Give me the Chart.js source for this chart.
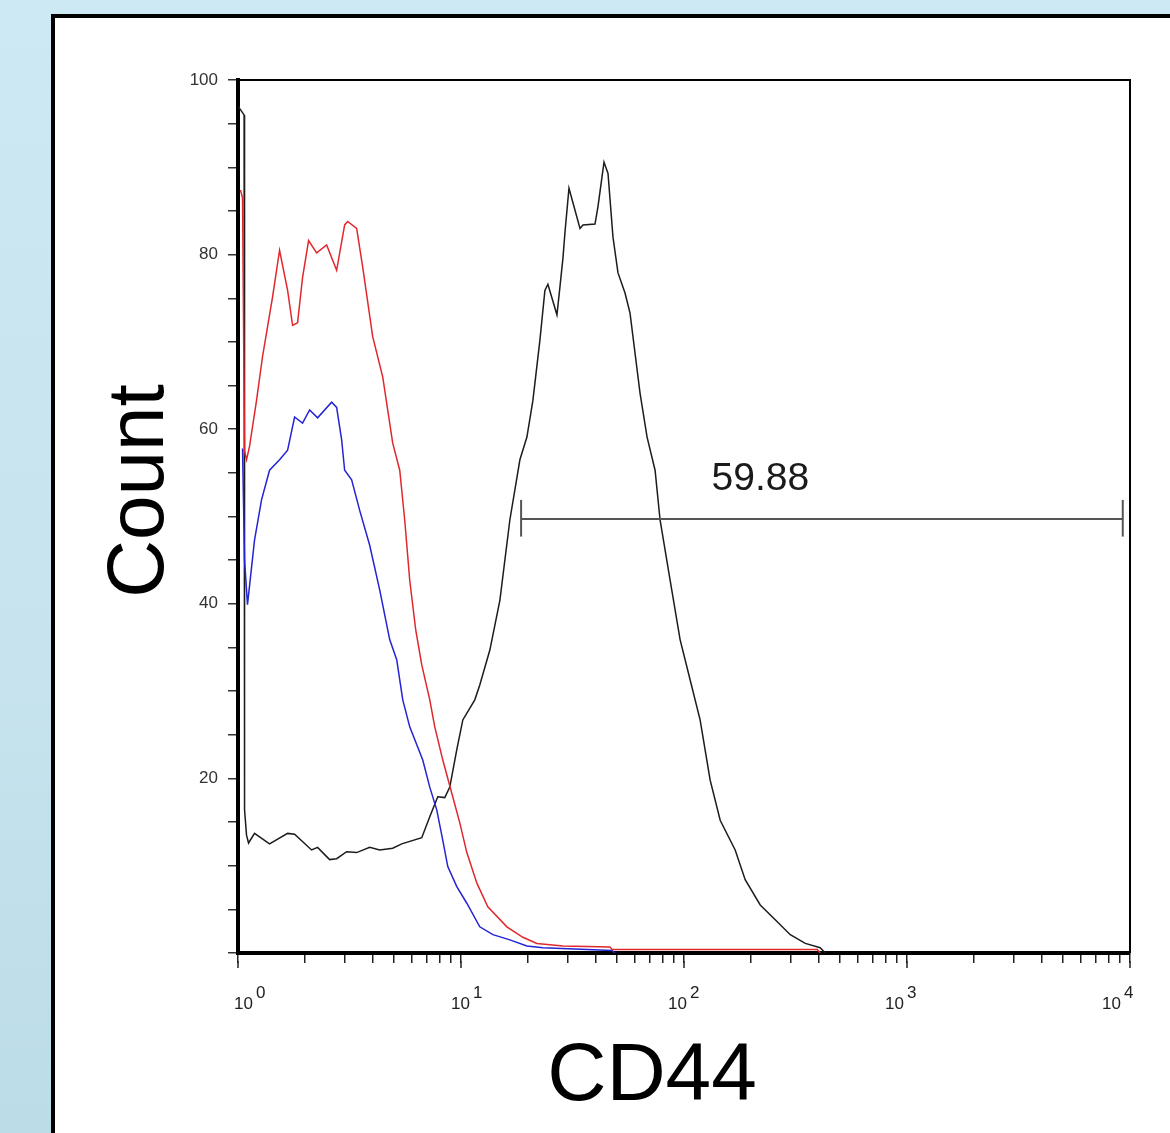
<!DOCTYPE html>
<html>
<head>
<meta charset="utf-8">
<script src="https://cdn.jsdelivr.net/npm/chart.js@4.4.1/dist/chart.umd.min.js"></script>
<style>
  html, body { margin: 0; padding: 0; }
  body {
    width: 1170px; height: 1133px; overflow: hidden; position: relative;
    background: linear-gradient(to bottom, #cde9f3 0%, #c6e3ee 60%, #bcdce7 100%);
  }
  #panel {
    position: absolute; left: 51px; top: 14px; width: 1200px; height: 1200px;
    background: #fff; border: 4px solid #000;
  }
  #grafica { position: absolute; left: 0; top: 0; }
</style>
</head>
<body>
<div id="panel"></div>
<canvas id="grafica" width="1170" height="1133"></canvas>
<script>
// CD44 histogram values (x = fluorescence, y = count)
var redX = [1.026, 1.048, 1.070, 1.092, 1.126, 1.211, 1.288, 1.385, 1.428, 1.536, 1.669, 1.757, 1.850, 1.948, 2.073, 2.252, 2.497, 2.769, 3.008, 3.102, 3.405, 3.623, 4.018, 4.456, 4.941, 5.312, 5.593, 5.890, 6.266, 6.668, 7.243, 7.627, 8.286, 9.093, 9.876, 10.62, 11.78, 13.19, 16.06, 18.95, 21.89, 28.65, 46.57, 47.55, 396, 408];
var redY = [87.4, 86.5, 57.5, 56.5, 58.0, 63.3, 68.3, 73.1, 75.1, 80.5, 75.9, 71.9, 72.2, 77.4, 81.6, 80.2, 81.1, 78.2, 83.4, 83.8, 83.0, 78.6, 70.6, 66.0, 58.4, 55.3, 49.6, 42.7, 37.0, 33.0, 29.0, 25.9, 22.1, 18.3, 14.9, 11.5, 8.0, 5.3, 3.0, 1.8, 1.1, 0.8, 0.7, 0.4, 0.4, 0];

var blueX = [1.048, 1.070, 1.103, 1.186, 1.275, 1.385, 1.536, 1.669, 1.794, 1.948, 2.095, 2.275, 2.630, 2.769, 2.915, 3.008, 3.233, 3.513, 3.895, 4.319, 4.789, 5.149, 5.481, 5.890, 6.738, 7.243, 7.786, 8.286, 8.724, 9.575, 10.62, 12.14, 13.90, 16.56, 19.75, 23.30, 47.55, 49.05];
var blueY = [57.8, 45.0, 39.9, 47.3, 51.9, 55.3, 56.5, 57.6, 61.4, 60.7, 62.2, 61.3, 63.1, 62.5, 58.8, 55.3, 54.2, 50.7, 46.7, 41.6, 35.9, 33.6, 29.0, 25.9, 22.1, 19.0, 16.4, 12.9, 9.9, 7.6, 5.7, 3.0, 2.1, 1.5, 0.8, 0.6, 0.3, 0];

var blackX = [1.0, 1.065, 1.070, 1.092, 1.115, 1.186, 1.385, 1.669, 1.794, 2.138, 2.275, 2.576, 2.769, 3.071, 3.405, 3.895, 4.319, 4.941, 5.424, 6.668, 7.243, 7.867, 8.459, 8.906, 9.575, 10.19, 11.53, 12.14, 13.47, 14.94, 16.56, 18.37, 19.75, 21.01, 22.59, 23.78, 24.53, 26.93, 27.78, 28.65, 29.25, 30.49, 34.17, 35.24, 39.89, 41.14, 43.78, 45.63, 48.03, 50.59, 54.39, 57.28, 60.32, 63.53, 68.30, 74.18, 78.11, 86.63, 96.05, 106.5, 118.1, 131.0, 145.3, 169.6, 188.1, 219.7, 256.5, 299.6, 349.9, 408, 430.1];
var blackY = [97, 96, 16.4, 13.5, 12.6, 13.7, 12.5, 13.7, 13.6, 11.8, 12.1, 10.7, 10.8, 11.6, 11.5, 12.1, 11.8, 12.0, 12.5, 13.2, 15.6, 17.9, 17.8, 19.0, 23.3, 26.7, 29.0, 30.7, 34.7, 40.4, 49.6, 56.5, 59.1, 63.3, 70.2, 75.9, 76.6, 73.1, 76.3, 79.6, 82.5, 87.6, 83.0, 83.4, 83.5, 85.5, 90.6, 89.3, 82.0, 77.9, 75.6, 73.3, 68.7, 64.1, 59.1, 55.3, 49.6, 42.7, 35.9, 31.3, 26.7, 19.8, 15.2, 11.8, 8.4, 5.5, 3.8, 2.1, 1.1, 0.6, 0];

// gate marker
var gateX = [18.6, 9280];
var gateY = 49.7;
var gateCap = [47.7, 51.9];
var gateLabel = '59.88';
var gateLabelAt = [220, 53];

// axes
var xDecades = [1, 10, 100, 1000, 10000];
var xMinor = [2, 3, 4, 5, 6, 7, 8, 9];
var yLabels = [20, 40, 60, 80, 100];

function puntos(xs, ys) {
    return xs.map(function (v, i) { return {x: v, y: ys[i]}; });
}

var xTicks = [];
xDecades.forEach(function (d, i) {
    xTicks.push({value: d, major: true});
    if (i < xDecades.length - 1) {
        xMinor.forEach(function (m) { xTicks.push({value: d * m, major: false}); });
    }
});

var FUENTE = '"Liberation Sans", Arial, sans-serif';

var extras = {
    id: 'extras',
    afterDraw: function (chart) {
        var ctx = chart.ctx, a = chart.chartArea;
        var sx = chart.scales.x, sy = chart.scales.y;
        ctx.save();
        // top + right frame
        ctx.strokeStyle = '#000';
        ctx.lineWidth = 2;
        ctx.beginPath();
        ctx.moveTo(a.left, a.top);
        ctx.lineTo(a.right, a.top);
        ctx.lineTo(a.right, a.bottom);
        ctx.stroke();

        // longer major ticks and 10^n labels
        ctx.strokeStyle = '#222';
        ctx.lineWidth = 1.5;
        ctx.fillStyle = '#222';
        ctx.textBaseline = 'alphabetic';
        ctx.textAlign = 'left';
        xDecades.forEach(function (d, n) {
            var px = sx.getPixelForValue(d);
            ctx.beginPath();
            ctx.moveTo(px, a.bottom + 8);
            ctx.lineTo(px, a.bottom + 15);
            ctx.stroke();
            var l = px - 4 - 6 * n;
            ctx.font = '17px ' + FUENTE;
            ctx.fillText('10', l, a.bottom + 56);
            ctx.fillText(String(n), l + 22, a.bottom + 45);
        });

        // gate label
        ctx.fillStyle = '#1a1a1a';
        ctx.font = '39px ' + FUENTE;
        ctx.textAlign = 'center';
        ctx.fillText(gateLabel, sx.getPixelForValue(gateLabelAt[0]), sy.getPixelForValue(gateLabelAt[1]));

        // axis titles
        ctx.fillStyle = '#000';
        ctx.font = '82px ' + FUENTE;
        ctx.fillText('CD44', 652, 1100);
        ctx.save();
        ctx.translate(163, 491);
        ctx.rotate(-Math.PI / 2);
        ctx.font = '80px ' + FUENTE;
        ctx.fillText('Count', 0, 0);
        ctx.restore();
        ctx.restore();
    }
};

function linea(label, data, color, width) {
    return {
        label: label, data: data, borderColor: color, borderWidth: width,
        pointRadius: 0, fill: false, tension: 0
    };
}

var ctx = document.getElementById('grafica').getContext('2d');
var myChart = new Chart(ctx, {
    type: 'line',
    data: {
        datasets: [
            linea('gate', [{x: gateX[0], y: gateY}, {x: gateX[1], y: gateY}], '#555', 2),
            linea('gateL', [{x: gateX[0], y: gateCap[0]}, {x: gateX[0], y: gateCap[1]}], '#555', 2),
            linea('gateR', [{x: gateX[1], y: gateCap[0]}, {x: gateX[1], y: gateCap[1]}], '#555', 2),
            linea('red', puntos(redX, redY), '#e0282c', 1.5),
            linea('blue', puntos(blueX, blueY), '#2424d4', 1.5),
            linea('black', puntos(blackX, blackY), '#1c1c1c', 1.5)
        ]
    },
    options: {
        responsive: false,
        animation: false,
        devicePixelRatio: 1,
        layout: {padding: {top: 80, right: 40, left: 0, bottom: 0}},
        plugins: {legend: {display: false}, tooltip: {enabled: false}},
        scales: {
            x: {
                type: 'logarithmic',
                min: 1,
                max: 10000,
                afterBuildTicks: function (scale) {
                    scale.ticks = xTicks.map(function (t) { return {value: t.value, major: t.major}; });
                },
                afterFit: function (scale) { scale.height = 180; },
                ticks: {display: false, autoSkip: false},
                grid: {drawOnChartArea: false, drawTicks: true, tickLength: 10, color: '#222', lineWidth: 1.5},
                border: {display: true, color: '#000', width: 4}
            },
            y: {
                type: 'linear',
                min: 0,
                max: 100,
                afterFit: function (scale) { scale.width = 238; },
                ticks: {
                    stepSize: 5,
                    autoSkip: false,
                    padding: 10,
                    color: '#333',
                    font: {family: FUENTE, size: 17},
                    callback: function (v) { return yLabels.indexOf(v) >= 0 ? String(v) : ''; }
                },
                grid: {drawOnChartArea: false, drawTicks: true, tickLength: 10, color: '#333', lineWidth: 1.5},
                border: {display: true, color: '#000', width: 4}
            }
        }
    },
    plugins: [extras]
});
</script>
</body>
</html>
